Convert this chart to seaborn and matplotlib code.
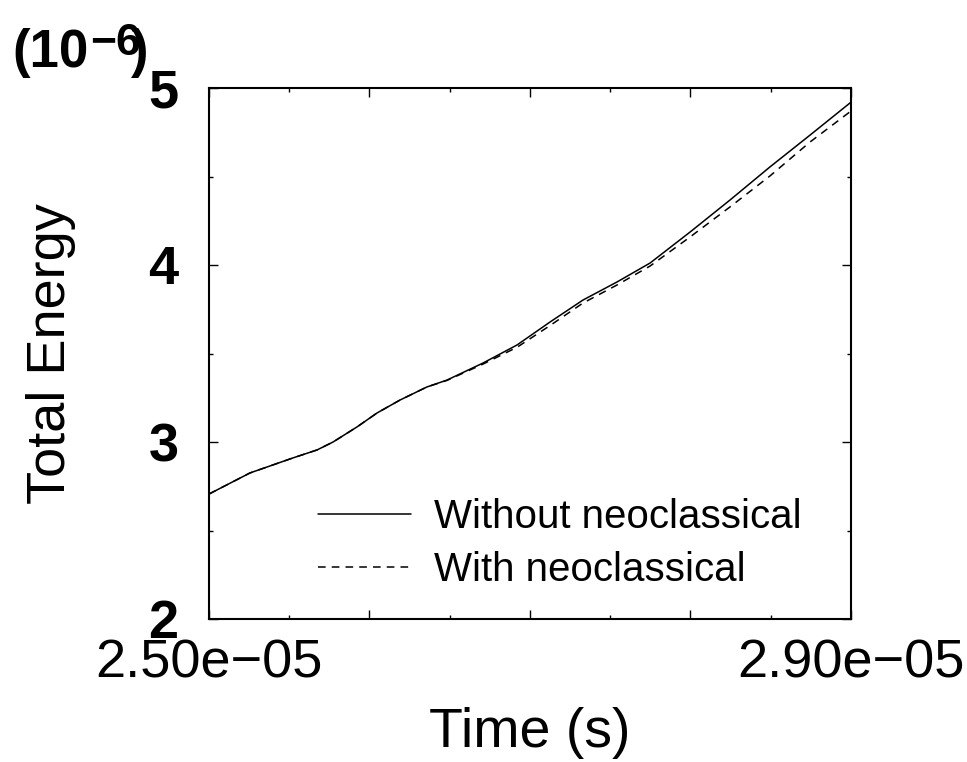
import numpy as np
import pandas as pd
import matplotlib
matplotlib.use("Agg")
import matplotlib.pyplot as plt
from matplotlib.ticker import MultipleLocator, FuncFormatter
import seaborn as sns

# Simulation time (s)
time_without = [2.500e-5, 2.5255e-5, 2.5523e-5, 2.5673e-5, 2.5773e-5, 2.5922e-5,
                 2.6047e-5, 2.6190e-5, 2.6358e-5, 2.6483e-5, 2.6707e-5, 2.6919e-5,
                 2.7125e-5, 2.7330e-5, 2.7542e-5, 2.7748e-5, 2.7997e-5, 2.8246e-5,
                 2.8495e-5, 2.8745e-5, 2.900e-5]
# Total energy in units of 1e-6
energy_without = [2.706, 2.825, 2.910, 2.955, 3.000, 3.085,
                  3.164, 3.237, 3.311, 3.350, 3.446, 3.548,
                  3.678, 3.802, 3.904, 4.011, 4.186, 4.367,
                  4.554, 4.734, 4.920]

time_with = time_without
energy_with = [2.706, 2.825, 2.910, 2.955, 3.000, 3.085,
               3.164, 3.237, 3.311, 3.348, 3.440, 3.535,
               3.658, 3.785, 3.887, 3.994, 4.158, 4.328,
               4.503, 4.695, 4.870]

series_labels = ["Without neoclassical", "With neoclassical"]

sns.set_theme(style="white")
plt.rcParams["font.family"] = ["Liberation Sans", "DejaVu Sans"]
for key in ("text.color", "axes.labelcolor", "xtick.color", "ytick.color"):
    plt.rcParams[key] = "black"

W, H = 967, 762
fig = plt.figure(figsize=(W / 100, H / 100), dpi=100)
ax = fig.add_axes([209 / W, 1 - 619 / H, 642 / W, 531 / H])

df_a = pd.DataFrame({"t": time_without, "E": energy_without})
df_b = pd.DataFrame({"t": time_with, "E": energy_with})

sns.lineplot(data=df_a, x="t", y="E", ax=ax, color="black", lw=1.1,
             label=series_labels[0])
sns.lineplot(data=df_b, x="t", y="E", ax=ax, color="black", lw=1.1,
             label=series_labels[1], linestyle=(0, (5, 4)))

ax.set_xlim(2.5e-5, 2.9e-5)
ax.set_ylim(2, 5)

ax.xaxis.set_major_locator(MultipleLocator(1e-6))
ax.xaxis.set_minor_locator(MultipleLocator(5e-7))
ax.yaxis.set_major_locator(MultipleLocator(1))
ax.yaxis.set_minor_locator(MultipleLocator(0.5))


def xfmt(v, pos):
    if abs(v - 2.5e-5) < 1e-9 or abs(v - 2.9e-5) < 1e-9:
        return f"{v:.2e}".replace("-", "\u2212")
    return ""


ax.xaxis.set_major_formatter(FuncFormatter(xfmt))
ax.yaxis.set_major_formatter(FuncFormatter(lambda v, p: f"{v:.0f}"))

ax.tick_params(which="both", direction="in", top=True, right=True,
               bottom=True, left=True, color="black", width=1.0)
ax.tick_params(which="major", length=6.5)
ax.tick_params(which="minor", length=3)
ax.tick_params(axis="x", which="major", labelsize=39, pad=14)
ax.tick_params(axis="y", which="major", labelsize=39, pad=22)
for lab in ax.get_yticklabels():
    lab.set_fontweight("bold")

for sp in ax.spines.values():
    sp.set_visible(True)
    sp.set_color("black")
    sp.set_linewidth(1.5)

ax.set_xlabel("Time (s)", fontsize=40, va="top")
ax.xaxis.set_label_coords(0.5, -(707 - 619) / 531)
ax.set_ylabel("Total Energy", fontsize=39)
ax.yaxis.set_label_coords((76 - 209) / 642, 0.5)

# Scale factor of the energy axis
fig.text(12 / W, 1 - 67 / H, "(10", fontsize=38, fontweight="bold",
         ha="left", va="baseline")
fig.text(90 / W, 1 - 55 / H, "\u22126", fontsize=32, fontweight="bold",
         ha="left", va="baseline")
fig.text(131 / W, 1 - 67 / H, ")", fontsize=38, fontweight="bold",
         ha="left", va="baseline")

leg = ax.legend(loc="upper left", bbox_to_anchor=((318 - 209) / 642, (619 - 498) / 531),
                frameon=False, fontsize=29, handlelength=2.3,
                handletextpad=0.57, labelspacing=0.37, borderaxespad=0,
                borderpad=0)

fig.savefig("out.png", dpi=100)
